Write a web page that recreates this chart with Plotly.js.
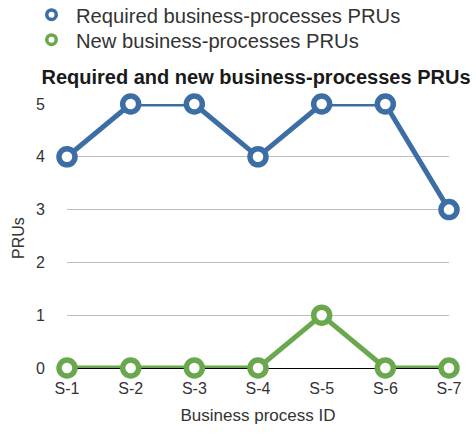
<!DOCTYPE html>
<html>
<head>
<meta charset="utf-8">
<script src="https://cdn.plot.ly/plotly-3.0.1.min.js"></script>
<style>
  body { margin: 0; background: #fff; }
  #chart { width: 476px; height: 439px; }
</style>
</head>
<body>
<div id="chart"></div>
<script>
var processIds = ["S-1", "S-2", "S-3", "S-4", "S-5", "S-6", "S-7"];
var requiredPRUs = [4, 5, 5, 4, 5, 5, 3];
var newPRUs = [0, 0, 0, 0, 1, 0, 0];

var blue = "#3c6ea5";
var green = "#6aa84f";
var font = "Liberation Sans, Arial, sans-serif";

function lineTrace(y, color) {
    return {
        x: processIds,
        y: y,
        type: "scatter",
        mode: "lines+markers",
        showlegend: false,
        cliponaxis: false,
        line: {color: color, width: 5},
        marker: {size: 16, color: "#fff", line: {color: color, width: 5.5}}
    };
}

// legend-only entries so the key shows just the ring
function keyTrace(name, color, legendId) {
    return {
        x: [null],
        y: [null],
        name: name,
        legend: legendId,
        type: "scatter",
        mode: "markers",
        marker: {size: 9.5, color: "#fff", line: {color: color, width: 3.5}}
    };
}

var data = [
    lineTrace(requiredPRUs, blue),
    lineTrace(newPRUs, green),
    keyTrace("Required business-processes PRUs", blue, "legend"),
    keyTrace("New business-processes PRUs", green, "legend2")
];

function legendBox(yPx) {
    return {
        xref: "container",
        yref: "container",
        x: 27 / 476,
        y: 1 - yPx / 439,
        xanchor: "left",
        yanchor: "middle",
        bgcolor: "rgba(0,0,0,0)",
        font: {family: font, size: 20.2, color: "#333"},
        itemwidth: 39
    };
}

var layout = {
    width: 476,
    height: 439,
    margin: {l: 67, r: 27, t: 104, b: 71, autoexpand: false},
    paper_bgcolor: "#fff",
    plot_bgcolor: "#fff",
    font: {family: font, size: 16, color: "#333"},
    title: {
        text: "<b>Required and new business-processes PRUs</b>",
        font: {family: font, size: 20, color: "#1a1a1a"},
        xref: "container",
        x: 256 / 476,
        xanchor: "center",
        yref: "container",
        y: 1 - 77 / 439,
        yanchor: "middle"
    },
    legend: legendBox(15),
    legend2: legendBox(40),
    xaxis: {
        type: "category",
        range: [0, 6],
        showgrid: false,
        zeroline: false,
        showline: false,
        ticks: "outside",
        ticklen: 6,
        tickcolor: "rgba(0,0,0,0)",
        tickangle: 0,
        tickfont: {size: 16, color: "#333"},
        title: {text: "Business process ID", font: {size: 17, color: "#333"}, standoff: 12}
    },
    yaxis: {
        range: [0, 5],
        dtick: 1,
        showgrid: true,
        gridcolor: "#bdbdbd",
        gridwidth: 1,
        zeroline: true,
        zerolinecolor: "#000",
        zerolinewidth: 1,
        showline: false,
        ticks: "outside",
        ticklen: 18,
        tickcolor: "rgba(0,0,0,0)",
        tickfont: {size: 16, color: "#333"}
    },
    annotations: [{
        text: "PRUs",
        xref: "paper",
        yref: "paper",
        x: -(67 - 18) / 382,
        y: (368 - 238) / 264,
        xanchor: "center",
        yanchor: "middle",
        textangle: -90,
        showarrow: false,
        font: {family: font, size: 16, color: "#333"}
    }]
};

Plotly.newPlot("chart", data, layout, {displayModeBar: false});
</script>
</body>
</html>
